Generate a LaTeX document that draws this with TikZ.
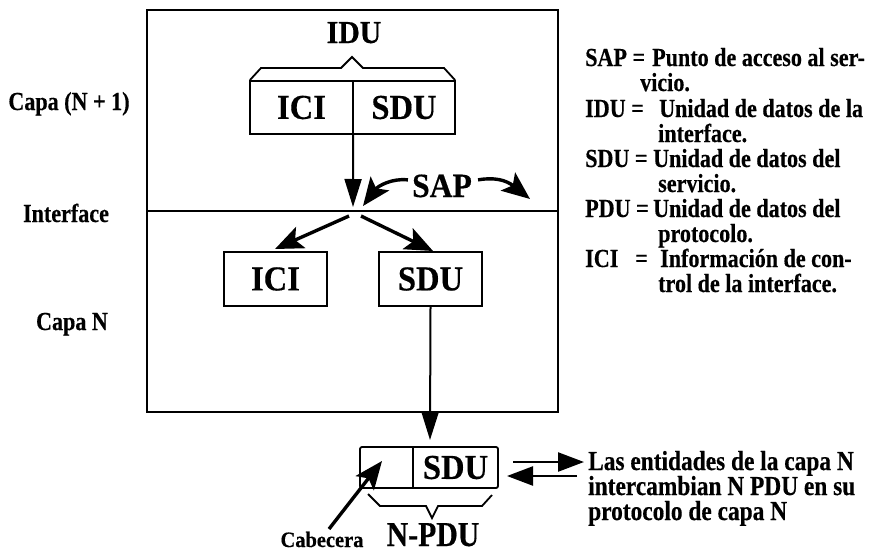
\documentclass[tikz,border=0pt]{standalone}
\usepackage{fontspec}
\setmainfont{Liberation Serif}
\newfontfamily\fN[FakeStretch=0.85,FakeBold=0.4]{Liberation Serif}
\newfontfamily\fW[FakeStretch=0.93,FakeBold=0.4]{Liberation Serif}
\usetikzlibrary{arrows.meta}
\tikzset{
  frame/.style={line width=1.8pt},
  cell/.style={inner sep=0pt, font=\fW\bfseries\fontsize{35}{37}\selectfont},
  lbl/.style={inner sep=0pt, anchor=base},
  leg/.style={inner sep=0pt, anchor=base west, font=\fN\bfseries\fontsize{26}{28}\selectfont},
  side/.style={inner sep=0pt, anchor=base, font=\fN\bfseries\fontsize{26}{28}\selectfont},
  arr/.style={line width=2pt, -{Triangle[length=28pt,width=17pt]}},
  exarr/.style={line width=2.4pt, -{Triangle[length=26pt,width=19pt]}},
  bigarr/.style={line width=3.4pt, -{Stealth[length=28pt,width=23pt,inset=6pt]}},
}
\begin{document}
\begin{tikzpicture}[x=1pt,y=-1pt]
\useasboundingbox (0,0) rectangle (869,554);
% main frame
\draw[frame] (147,10) rectangle (558,412);
\draw[frame] (147,211) -- (558,211);
% side labels
\node[side] (capa1) at (69,110) {Capa (N + 1)};
\node[side] (intf) at (66,222) {Interface};
\node[side] (capan) at (72,330) {Capa N};
% IDU box
\node[cell, minimum width=103pt, minimum height=53pt] (ici1) at (301.5,107.5) {ICI};
\node[cell, minimum width=102pt, minimum height=53pt] (sdu1) at (404,107.5) {SDU};
\draw[frame] (250,81) rectangle (455,134);
\draw[frame] (353,81) -- (353,134);
\draw[line width=1.8pt] (250,80) -- (261,68) -- (341,68) -- (352,57) -- (363,68) -- (444,68) -- (455,80);
\node[lbl, font=\fW\bfseries\fontsize{32}{34}\selectfont] (idu) at (354,43) {IDU};
% SAP
\coordinate (sap) at (353,207);
\draw[arr] (ici1.south east) -- (sap);
\node[lbl, font=\fW\bfseries\fontsize{34}{36}\selectfont] (saplbl) at (442,197) {SAP};
\coordinate (sapR) at (530,199);
\draw[bigarr] (saplbl.west) ++(-4,-6) .. controls (392,178) and (378,186) .. (363,206);
\draw[bigarr] (saplbl.east) ++(6,-6) .. controls (494,177) and (506,180) .. (sapR);
% lower boxes
\node[cell, draw, line width=1.8pt, minimum width=103pt, minimum height=54pt] (ici2) at (275.5,279) {ICI};
\node[cell, draw, line width=1.8pt, minimum width=103pt, minimum height=54pt] (sdu2) at (430.5,279) {SDU};
\coordinate (sapL) at (349,216);
\coordinate (sapRR) at (361,216);
\draw[bigarr] (sapL) -- (275,249);
\draw[bigarr] (sapRR) -- (433,251);
% down to N-PDU
\node[cell, minimum width=85pt, minimum height=41pt] (sdu3) at (455.5,467.5) {SDU};
\node[inner sep=0pt, minimum width=53pt, minimum height=41pt] (hdr) at (386.5,467.5) {};
\draw[frame, rounded corners=2pt] (360,447) rectangle (498,488);
\draw[frame] (413,447) -- (413,488);
\draw[arr] (sdu2.south) -- (430,440);
% brace under
\draw[line width=1.8pt] (368,494) -- (380,506) -- (426,506) -- (432,518) -- (438,506) -- (482,506) -- (492,495);
\node[lbl, font=\fN\bfseries\fontsize{35}{37}\selectfont] (npdu) at (433,546) {N-PDU};
\node[lbl, font=\fW\bfseries\fontsize{22}{24}\selectfont] (cab) at (322,547) {Cabecera};
\coordinate (cabtip) at (382,461);
\draw[bigarr] (329,529) -- (cabtip);
% exchange arrows
\coordinate (e1) at (513,462); \coordinate (e2) at (584,462);
\coordinate (e3) at (577,476); \coordinate (e4) at (507,476);
\draw[exarr] (e1) -- (e2);
\draw[exarr] (e3) -- (e4);
\node[leg, font=\fN\bfseries\fontsize{27.5}{29}\selectfont] (t1) at (588,470) {Las entidades de la capa N};
\node[leg, font=\fN\bfseries\fontsize{27.5}{29}\selectfont] (t2) at (588,495) {intercambian N PDU en su};
\node[leg, font=\fN\bfseries\fontsize{27.5}{29}\selectfont] (t3) at (588,520) {protocolo de capa N};
% legend
\node[leg] (l1a) at (585,66) {SAP =};
\node[leg] (l1b) at (652,66) {Punto de acceso al ser-};
\node[leg] (l2) at (640,91) {vicio.};
\node[leg] (l3a) at (585,117) {IDU =};
\node[leg] (l3b) at (659,117) {Unidad de datos de la};
\node[leg] (l4) at (658,142) {interface.};
\node[leg] (l5a) at (585,167) {SDU =};
\node[leg] (l5b) at (653,167) {Unidad de datos del};
\node[leg] (l6) at (658,192) {servicio.};
\node[leg] (l7a) at (585,217) {PDU =};
\node[leg] (l7b) at (653,217) {Unidad de datos del};
\node[leg] (l8) at (658,242) {protocolo.};
\node[leg] (l9a) at (585,267) {ICI};
\node[leg] (l9c) at (635,267) {=};
\node[leg] (l9b) at (660,267) {Información de con-};
\node[leg] (l10) at (658,292) {trol de la interface.};
\end{tikzpicture}
\end{document}
